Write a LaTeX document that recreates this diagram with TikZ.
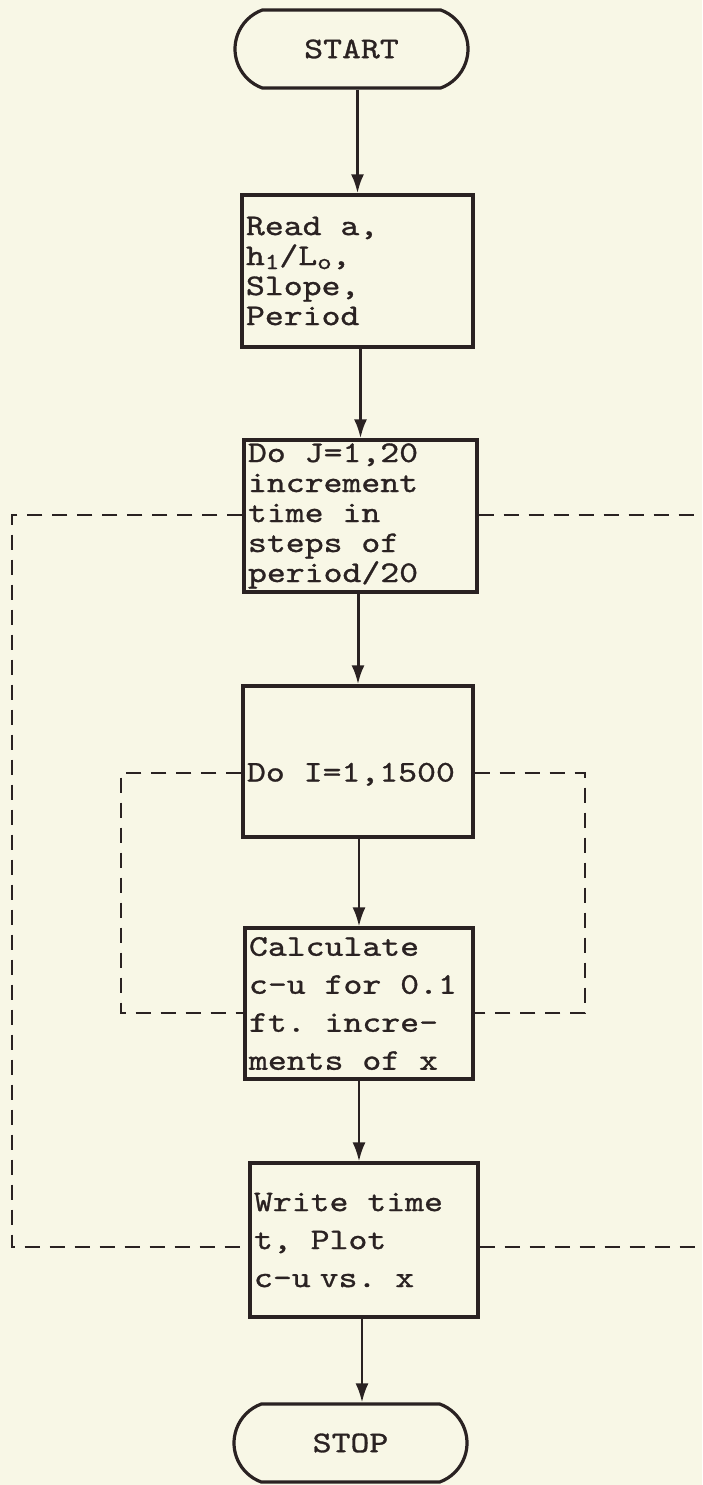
\documentclass[tikz,border=0pt]{standalone}
\usepackage{fontspec}
\newfontfamily\tw{lmmono10-regular.otf}[FakeStretch=1.2,FakeBold=1]
\newcommand{\twset}[1]{\tw\fontsize{30pt}{#1}\selectfont\parindent=0pt\relax}
\newcommand{\sk}{\hspace*{18.9pt}}
\newcommand{\lowered}[1]{\raisebox{-4pt}{\fontsize{23pt}{23pt}\selectfont #1}}
\usetikzlibrary{arrows.meta,shapes.misc}
\definecolor{paper}{HTML}{F8F7E6}
\definecolor{ink}{HTML}{2A2222}
\begin{document}
\begin{tikzpicture}[x=1pt,y=-1pt,
  box/.style={draw=ink, line width=3.2pt, rectangle, inner xsep=4pt, inner ysep=0pt,
    align=left, text=ink, font={\twset{30pt}}},
  widebox/.style={box, font={\twset{38pt}}},
  term/.style={draw=ink, line width=3.2pt, rounded rectangle, rounded rectangle arc length=140,
    minimum width=233pt, minimum height=78pt, inner sep=0pt, text=ink,
    font={\twset{30pt}}},
  flow/.style={draw=ink, line width=3pt, -{Latex[length=19pt,width=13pt]}},
  thinflow/.style={flow, line width=2.5pt},
  loopline/.style={draw=ink, line width=2.8pt, dash pattern=on 15pt off 10pt}]
\fill[paper] (0,0) rectangle (702,1485);
\useasboundingbox (0,0) rectangle (702,1485);

\node[term] (start) at (351.5,49) {START};
\node[box, text width=223pt, minimum height=152pt] (read) at (357.5,271)
  {Read\sk a,\\h\lowered{1}/L\lowered{o},\\Slope,\\Period};
\node[box, text width=225pt, minimum height=152pt] (doj) at (360.5,516)
  {Do\sk J=1,20\\increment\\time\sk in\\steps\sk of\\period/20};
\node[box, text width=222pt, minimum height=151pt] (doi) at (358,761.5)
  {\raisebox{0pt}[40pt][0pt]{Do\sk I=1,1500}};
\node[widebox, text width=220pt, minimum height=151pt] (calc) at (359,1003.5)
  {Calculate\\c-u\sk for\sk 0.1\\ft.\sk incre-\\ments\sk of\sk x};
\node[widebox, text width=220pt, minimum height=154pt] (write) at (364,1240)
  {Write\sk time\\t,\sk Plot\\c-u\hspace*{9pt}vs.\sk x};
\node[term] (stop) at (350.5,1443) {STOP};

\draw[flow] (read.north |- start.south) -- (read.north);
\draw[flow] (doj.north |- read.south) -- (doj.north);
\draw[flow] (doi.north |- doj.south) -- (doi.north);
\draw[thinflow] (calc.north |- doi.south) -- (calc.north);
\draw[thinflow] (calc.south) -- (calc.south |- write.north);
\draw[thinflow] ([xshift=-2pt]write.south) -- ([xshift=-2pt]write.south |- stop.north);

\coordinate (otl) at (12,515);
\coordinate (obl) at (12,1247);
\coordinate (otr) at (702,515);
\coordinate (obr) at (702,1247);
\coordinate (itl) at (121,773);
\coordinate (ibl) at (121,1013);
\coordinate (itr) at (585,773);
\coordinate (ibr) at (585,1013);
\draw[loopline] (doj.west |- otl) -- (otl) -- (obl) -- (write.west |- obl);
\draw[loopline] (doj.east |- otr) -- (otr);
\draw[loopline] (write.east |- obr) -- (obr);
\draw[loopline] (doi.west |- itl) -- (itl) -- (ibl) -- (calc.west |- ibl);
\draw[loopline] (doi.east |- itr) -- (itr) -- (ibr) -- (calc.east |- ibr);
\end{tikzpicture}
\end{document}
